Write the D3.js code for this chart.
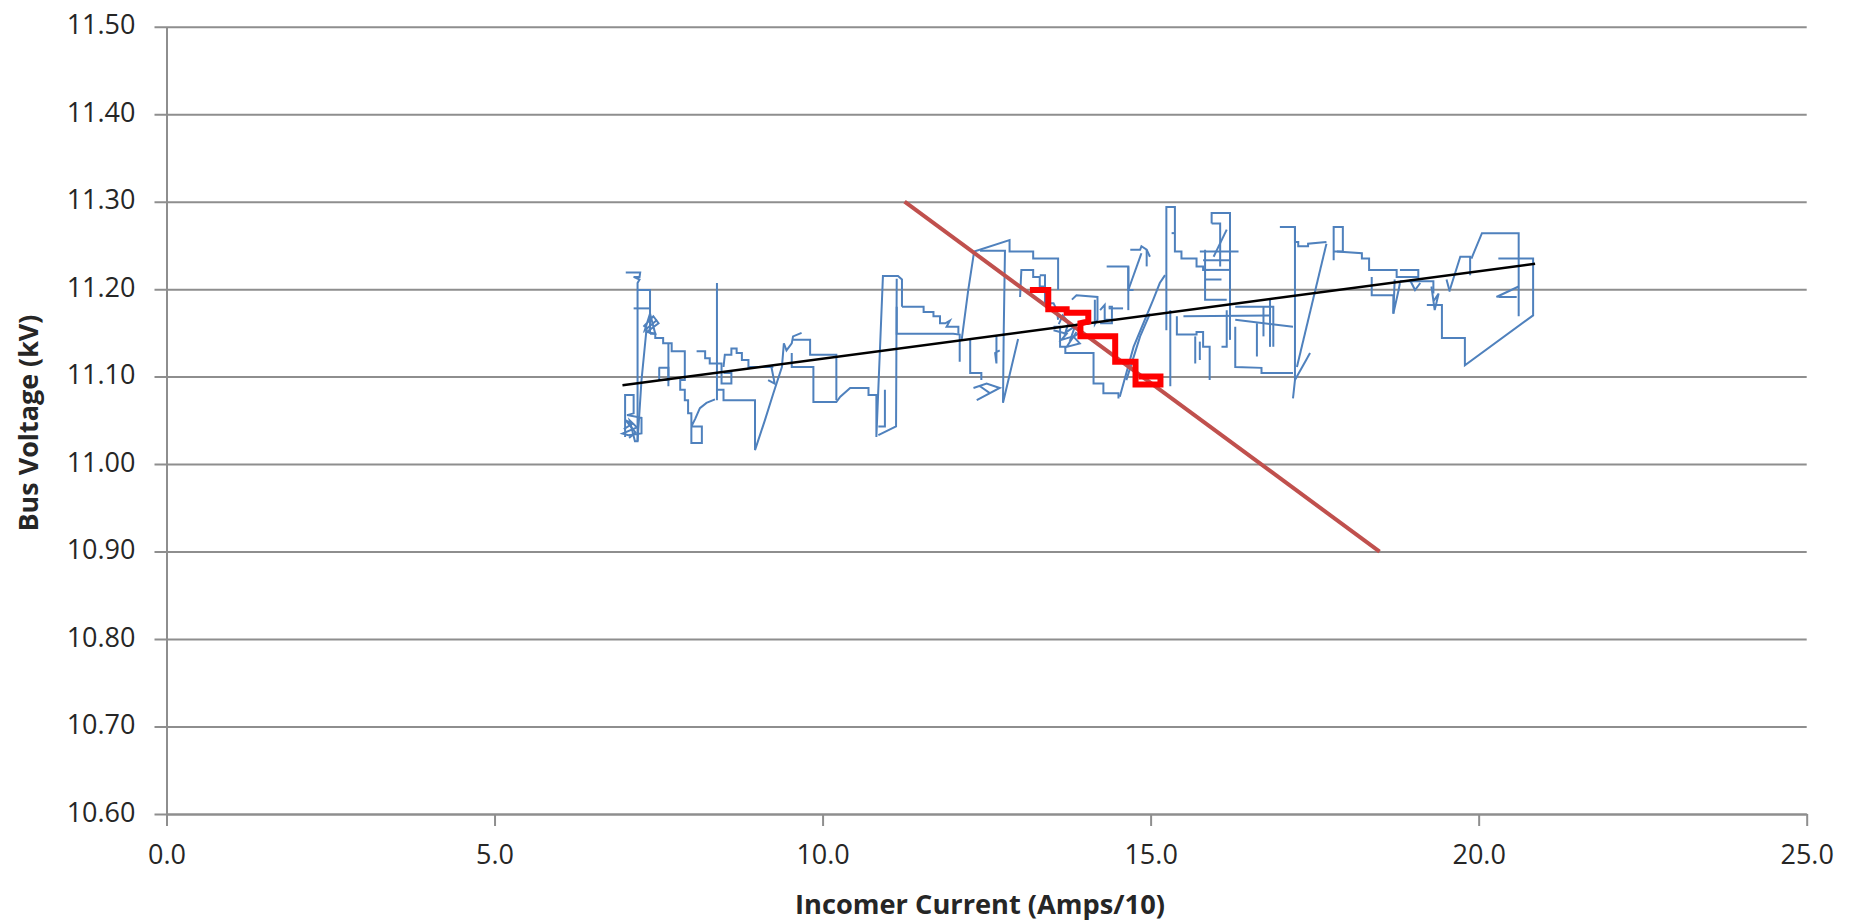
<!DOCTYPE html>
<html><head><meta charset="utf-8">
<script src="https://cdn.jsdelivr.net/npm/d3@7"></script>
<style>body{margin:0;background:#fff}svg{display:block}</style>
</head><body>
<svg id="chart" width="1852" height="923"></svg>
<script>
// ---------- data ----------
const xTicks = [0, 5, 10, 15, 20, 25];
const yTicks = [10.6, 10.7, 10.8, 10.9, 11.0, 11.1, 11.2, 11.3, 11.4, 11.5];
const xTitle = "Incomer Current (Amps/10)";
const yTitle = "Bus Voltage (kV)";

// linear trend of the measured trace
const trendLine = [[6.95, 11.090], [20.86, 11.229]];
// droop characteristic
const droopLine = [[11.25, 11.30], [18.49, 10.90]];
// highlighted operating steps
const operatingSteps = [[13.16,11.199],[13.44,11.199],[13.44,11.177],[13.72,11.177],[13.72,11.173],[14.05,11.173],[14.05,11.163],[13.93,11.161],[13.93,11.146],[14.46,11.146],[14.46,11.117],[14.77,11.117],[14.77,11.091],[15.15,11.091],[15.15,11.100],[14.82,11.100]];

// measured bus voltage vs incomer current trace (pieces)
const busTrace = [
 [[7.00,11.219],[7.22,11.219],[7.21,11.214],[7.12,11.214],[7.21,11.211],[7.18,11.207],[7.18,11.026]],
 [[7.18,11.199],[7.37,11.199],[7.37,11.149]],
 [[7.12,11.178],[7.37,11.178]],
 [[7.27,11.157],[7.42,11.169],[7.50,11.161],[7.32,11.151],[7.45,11.149],[7.37,11.172],[7.29,11.153],[7.48,11.165]],
 [[7.37,11.149],[7.45,11.149],[7.45,11.144],[7.57,11.144],[7.57,11.138],[7.70,11.138],[7.70,11.129],[7.90,11.129],[7.90,11.096],[7.83,11.096],[7.83,11.085],[7.90,11.085],[7.90,11.073],[7.95,11.073],[7.95,11.058],[8.00,11.058],[8.00,11.043],[8.16,11.043],[8.16,11.024],[8.00,11.024],[8.00,11.043],[8.06,11.052],[8.13,11.064],[8.23,11.070],[8.36,11.074]],
 [[7.65,11.138],[7.65,11.089]],
 [[7.50,11.110],[7.65,11.110],[7.65,11.096],[7.51,11.096],[7.51,11.110]],
 [[6.99,11.031],[6.99,11.079],[7.12,11.079],[7.12,11.058],[7.02,11.056],[7.24,11.053],[7.24,11.035],[7.04,11.033],[6.95,11.035],[7.17,11.042],[7.06,11.050],[7.14,11.026],[7.18,11.026],[7.24,11.096],[7.32,11.157]],
 [[6.97,11.040],[7.10,11.046],[7.00,11.050],[7.15,11.036],[7.05,11.030]],
 [[8.08,11.129],[8.21,11.129],[8.21,11.121],[8.28,11.121],[8.28,11.115],[8.46,11.115],[8.46,11.092],[8.61,11.092],[8.61,11.104],[8.49,11.104]],
 [[8.39,11.207],[8.39,11.073]],
 [[8.39,11.085],[8.49,11.085],[8.49,11.073],[8.97,11.073],[8.97,11.016],[9.12,11.050],[9.25,11.081],[9.38,11.111],[9.41,11.138]],
 [[9.17,11.096],[9.27,11.092],[9.22,11.111]],
 [[8.49,11.111],[8.51,11.125],[8.61,11.125],[8.61,11.132],[8.69,11.132],[8.69,11.127],[8.77,11.127],[8.77,11.119],[8.87,11.119],[8.87,11.111],[9.25,11.111]],
 [[9.41,11.138],[9.45,11.130],[9.53,11.138],[9.55,11.146],[9.68,11.150]],
 [[9.55,11.142],[9.81,11.142],[9.81,11.125],[10.21,11.125],[10.21,11.073]],
 [[9.53,11.127],[9.53,11.111],[9.86,11.111],[9.86,11.071],[10.21,11.071],[10.27,11.077],[10.42,11.087],[10.70,11.087],[10.70,11.079],[10.82,11.079],[10.82,11.031],[10.92,11.215],[11.15,11.215],[11.21,11.211],[11.21,11.180]],
 [[11.13,11.212],[11.12,11.043],[10.85,11.033]],
 [[10.95,11.085],[10.95,11.043],[10.85,11.043]],
 [[11.21,11.180],[11.54,11.180],[11.54,11.174],[11.69,11.174],[11.69,11.169],[11.79,11.169],[11.79,11.161],[11.87,11.161],[11.94,11.164],[11.89,11.157],[12.07,11.157],[12.07,11.149]],
 [[11.13,11.180],[11.13,11.149],[11.99,11.149],[12.09,11.148],[12.09,11.117]],
 [[12.12,11.142],[12.22,11.199],[12.31,11.243],[12.85,11.256],[12.85,11.243],[13.21,11.243],[13.21,11.235],[13.59,11.235],[13.59,11.199]],
 [[12.40,11.244],[12.78,11.244],[12.76,11.146],[12.75,11.070],[12.98,11.143]],
 [[12.25,11.142],[12.25,11.104],[12.42,11.104],[12.42,11.096]],
 [[12.30,11.087],[12.50,11.092],[12.70,11.087],[12.35,11.073],[12.55,11.081],[12.40,11.089]],
 [[12.65,11.146],[12.65,11.115],[12.63,11.127],[12.70,11.130]],
 [[13.01,11.191],[13.03,11.222],[13.21,11.222],[13.21,11.214],[13.31,11.214],[13.31,11.203],[13.39,11.203],[13.39,11.184],[13.52,11.184],[13.57,11.176],[13.59,11.165]],
 [[13.31,11.216],[13.39,11.216],[13.39,11.199]],
 [[13.80,11.188],[13.87,11.193],[14.19,11.191],[14.19,11.165],[14.15,11.160],[14.15,11.188]],
 [[13.52,11.157],[13.62,11.157],[13.62,11.134],[13.70,11.134],[13.70,11.127],[14.13,11.127],[14.13,11.092],[14.28,11.092],[14.28,11.081],[14.51,11.081],[14.51,11.075]],
 [[13.52,11.153],[13.72,11.149],[13.64,11.142],[13.82,11.146],[13.92,11.138],[13.72,11.134],[13.87,11.151]],
 [[13.60,11.160],[13.66,11.170],[13.75,11.162],[13.70,11.150],[13.85,11.158],[13.78,11.143],[13.95,11.152]],
 [[14.23,11.176],[14.30,11.182],[14.30,11.165],[14.45,11.165]],
 [[14.23,11.161],[14.41,11.161],[14.41,11.180],[14.36,11.180]],
 [[14.36,11.178],[14.58,11.178]],
 [[14.33,11.226],[14.66,11.226],[14.66,11.199],[14.74,11.199]],
 [[14.69,11.245],[14.84,11.245],[14.86,11.249],[14.94,11.245],[14.99,11.237]],
 [[14.94,11.245],[14.94,11.226]],
 [[14.66,11.226],[14.66,11.176]],
 [[14.66,11.199],[14.86,11.241]],
 [[14.53,11.077],[14.74,11.134],[14.89,11.161],[15.04,11.188],[15.14,11.207],[15.22,11.216]],
 [[14.63,11.096],[14.84,11.146],[14.99,11.172]],
 [[15.24,11.153],[15.24,11.294],[15.37,11.294],[15.37,11.243],[15.47,11.243],[15.47,11.235],[15.70,11.235],[15.70,11.226],[15.80,11.226],[15.80,11.222],[15.90,11.222]],
 [[15.37,11.264],[15.32,11.264]],
 [[15.30,11.176],[15.30,11.089]],
 [[15.40,11.169],[15.40,11.148],[15.70,11.148],[15.70,11.151],[15.80,11.151],[15.80,11.134],[15.90,11.134],[15.90,11.096]],
 [[15.68,11.146],[15.68,11.115]],
 [[15.75,11.140],[15.75,11.119]],
 [[15.93,11.275],[15.93,11.287],[16.21,11.287],[16.21,11.184]],
 [[15.93,11.275],[16.06,11.275],[16.06,11.226]],
 [[15.75,11.243],[16.34,11.243]],
 [[15.80,11.233],[16.21,11.233]],
 [[15.80,11.222],[16.21,11.222]],
 [[15.83,11.211],[16.08,11.211]],
 [[15.83,11.245],[15.83,11.188],[16.16,11.188]],
 [[15.96,11.237],[16.16,11.268]],
 [[15.50,11.169],[16.82,11.170]],
 [[16.29,11.180],[16.87,11.180],[16.87,11.134]],
 [[16.29,11.165],[17.17,11.157]],
 [[16.29,11.157],[16.29,11.111],[16.69,11.110],[16.69,11.104],[17.17,11.104]],
 [[16.72,11.180],[16.72,11.146]],
 [[16.62,11.161],[16.62,11.123]],
 [[16.82,11.188],[16.82,11.134]],
 [[16.21,11.184],[16.21,11.142]],
 [[16.16,11.176],[16.16,11.134],[16.08,11.134]],
 [[16.97,11.271],[17.20,11.271],[17.20,11.254],[17.25,11.254],[17.25,11.249],[17.40,11.249],[17.40,11.252],[17.68,11.254]],
 [[17.20,11.271],[17.20,11.096],[17.17,11.075]],
 [[17.20,11.096],[17.43,11.127]],
 [[17.23,11.111],[17.68,11.252]],
 [[17.79,11.233],[17.79,11.271],[17.93,11.271],[17.93,11.243],[17.79,11.243]],
 [[17.84,11.243],[18.22,11.241],[18.22,11.235],[18.33,11.235],[18.33,11.222],[18.75,11.222],[18.75,11.214],[19.08,11.214],[19.08,11.222],[18.80,11.222]],
 [[18.37,11.214],[18.37,11.193],[18.70,11.193],[18.70,11.172]],
 [[18.80,11.209],[19.31,11.209],[19.31,11.195]],
 [[19.21,11.182],[19.44,11.182],[19.44,11.144],[19.79,11.144],[19.79,11.113],[20.83,11.170],[20.83,11.235],[20.30,11.235]],
 [[19.56,11.199],[19.72,11.237],[19.87,11.237],[19.87,11.216]],
 [[19.89,11.235],[20.05,11.264],[20.61,11.264],[20.61,11.169]],
 [[20.27,11.191],[20.61,11.203]],
 [[20.30,11.191],[20.58,11.191]],
 [[18.72,11.211],[18.70,11.172],[18.78,11.199],[18.80,11.207]],
 [[18.95,11.211],[19.03,11.199],[19.11,11.207]],
 [[19.28,11.203],[19.33,11.176],[19.39,11.195],[19.31,11.186]],
 [[19.51,11.211],[19.56,11.197]]
];

// ---------- drawing ----------
const svg = d3.select("#chart");
const plot = {left: 166.5, right: 1806.7, top: 26.7, bottom: 814};
const x = d3.scaleLinear().domain([0, 25]).range([plot.left, plot.right]);
const y = d3.scaleLinear().domain([10.6, 11.5]).range([plot.bottom, plot.top]);
const font = "'Open Sans', 'Noto Sans', sans-serif";
const gridColor = "#8e8e8e";

// y axis with gridlines
const yAxis = svg.append("g").attr("transform", `translate(${plot.left},0)`)
  .call(d3.axisLeft(y).tickValues(yTicks).tickFormat(d3.format(".2f"))
    .tickSizeInner(-(plot.right - plot.left)).tickSizeOuter(0).tickPadding(31));
yAxis.selectAll(".tick line").attr("x1", -12).attr("stroke", gridColor).attr("stroke-width", 2);
yAxis.select(".domain").attr("stroke", gridColor).attr("stroke-width", 2);
yAxis.selectAll("text").attr("font-family", font).attr("font-size", 27)
  .attr("fill", "#262626").attr("dy", "0.27em");

// x axis
const xAxis = svg.append("g").attr("transform", `translate(0,${plot.bottom})`)
  .call(d3.axisBottom(x).tickValues(xTicks).tickFormat(d3.format(".1f"))
    .tickSizeInner(12).tickSizeOuter(0).tickPadding(19));
xAxis.selectAll(".tick line").attr("stroke", gridColor).attr("stroke-width", 2);
xAxis.select(".domain").attr("stroke", gridColor).attr("stroke-width", 2);
xAxis.selectAll("text").attr("font-family", font).attr("font-size", 27).attr("fill", "#262626");

const line = d3.line().x(d => x(d[0])).y(d => y(d[1]));

// measured trace
svg.append("g").selectAll("path").data(busTrace).join("path")
  .attr("d", line).attr("fill", "none").attr("stroke", "#4F81BD")
  .attr("stroke-width", 2).attr("stroke-linejoin", "miter");

// droop line
svg.append("path").attr("d", line(droopLine)).attr("fill", "none")
  .attr("stroke", "#C0504D").attr("stroke-width", 4);

// trend line
svg.append("path").attr("d", line(trendLine)).attr("fill", "none")
  .attr("stroke", "#000").attr("stroke-width", 2.5);

// highlighted steps
svg.append("path").attr("d", line(operatingSteps)).attr("fill", "none")
  .attr("stroke", "#FF0000").attr("stroke-width", 6).attr("stroke-linejoin", "miter");

// titles
function fitText(sel, width) {
  const w = sel.node().getComputedTextLength();
  const fs = parseFloat(sel.attr("font-size"));
  sel.attr("font-size", (fs * width / w).toFixed(2));
}
const xt = svg.append("text").text(xTitle).attr("x", 980).attr("y", 914)
  .attr("text-anchor", "middle").attr("font-family", font).attr("font-weight", "bold")
  .attr("font-size", 27).attr("fill", "#262626");
fitText(xt, 370);
const yt = svg.append("text").text(yTitle)
  .attr("transform", "translate(38,423) rotate(-90)")
  .attr("text-anchor", "middle").attr("font-family", font).attr("font-weight", "bold")
  .attr("font-size", 27).attr("fill", "#262626");
fitText(yt, 217);
</script>
</body></html>
